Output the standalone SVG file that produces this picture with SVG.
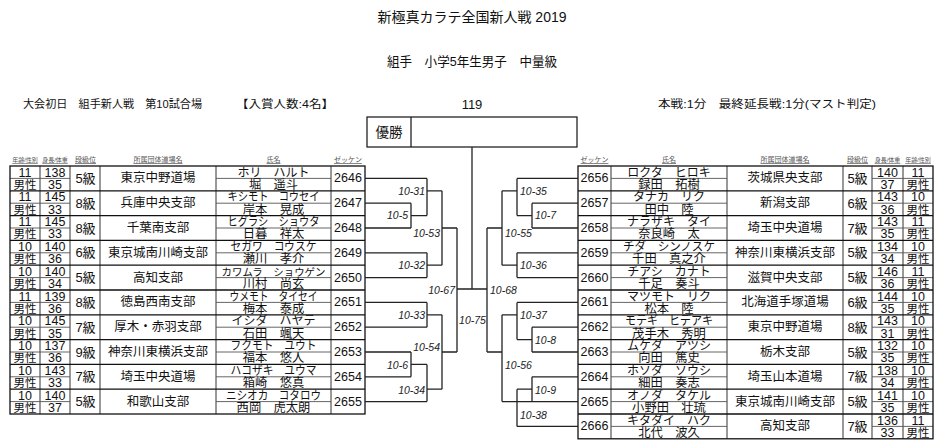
<svg xmlns="http://www.w3.org/2000/svg" width="941" height="447" viewBox="0 0 941 447">
<style>
text{font-family:"Liberation Sans","Noto Sans CJK JP",sans-serif;fill:#111}
.row text,.mid{text-anchor:middle;dominant-baseline:central}
.n{font-size:12.5px}
.s{font-size:11.5px}
.g{font-size:13px}
.cl{font-size:12.5px}
.k{font-size:12px}
.j{font-size:12.3px}
.z{font-size:12.5px}
.hd{font-size:7px;fill:#555;text-anchor:middle;text-decoration:underline}
.hs{font-size:6px}
.lb{font-size:10.5px;font-style:italic;fill:#222;dominant-baseline:central}
.e{text-anchor:end}
.info{font-size:11px;dominant-baseline:central}
.rowline{stroke:#111;stroke-width:1.3;fill:none}
.col{stroke:#333;stroke-width:1;fill:none}
.half{stroke:#555;stroke-width:0.9;fill:none}
.br{stroke:#222;stroke-width:1.3;fill:none}
</style>
<rect width="941" height="447" fill="#fff"/>

<g id="header">
<text class="mid" x="472" y="17" font-size="14">新極真カラテ全国新人戦 2019</text>
<text class="mid" x="472" y="61" font-size="13" textLength="170" lengthAdjust="spacingAndGlyphs">組手　小学5年生男子　中量級</text>
<text class="info" x="23" y="104" textLength="179" lengthAdjust="spacingAndGlyphs">大会初日　組手新人戦　第10試合場</text>
<text class="info" x="236" y="104" textLength="98" lengthAdjust="spacingAndGlyphs">【入賞人数:4名】</text>
<text class="mid" x="472" y="104" font-size="13">119</text>
<text class="info" x="658" y="104" textLength="218" lengthAdjust="spacingAndGlyphs">本戦:1分　最終延長戦:1分(マスト判定)</text>
</g>

<g id="winner">
<rect x="367" y="117" width="210" height="30" fill="none" stroke="#111" stroke-width="1.2"/>
<line x1="411" y1="117" x2="411" y2="147" stroke="#111" stroke-width="1.2"/>
<text class="mid" x="389" y="132" font-size="13.5">優勝</text>
</g>

<g id="left-headers">
<text class="hd hs" x="25" y="162">年齢/性別</text>
<text class="hd hs" x="55" y="162">身長/体重</text>
<text class="hd" x="85.5" y="162">段級位</text>
<text class="hd" x="158" y="162">所属団体道場名</text>
<text class="hd" x="273.5" y="162">氏名</text>
<text class="hd" x="348" y="162">ゼッケン</text>
</g>
<g id="right-headers">
<text class="hd" x="594.5" y="162">ゼッケン</text>
<text class="hd" x="669" y="162">氏名</text>
<text class="hd" x="785" y="162">所属団体道場名</text>
<text class="hd" x="857.5" y="162">段級位</text>
<text class="hd hs" x="887.5" y="162">身長/体重</text>
<text class="hd hs" x="918" y="162">年齢/性別</text>
</g>

<g id="left-grid">
<path class="col" d="M40 166V414M70 166V414M100 166V414M216 166V414M331 166V414"/>
<path class="half" d="M10 178.4H70M216 178.4H331M10 203.2H70M216 203.2H331M10 228H70M216 228H331M10 252.8H70M216 252.8H331M10 277.6H70M216 277.6H331M10 302.4H70M216 302.4H331M10 327.2H70M216 327.2H331M10 352H70M216 352H331M10 376.8H70M216 376.8H331M10 401.6H70M216 401.6H331"/>
<path class="rowline" d="M10 190.8H365M10 215.6H365M10 240.4H365M10 265.2H365M10 290H365M10 314.8H365M10 339.6H365M10 364.4H365M10 389.2H365"/>
<rect class="rowline" x="10" y="166" width="355" height="248"/>
</g>

<g id="right-grid">
<path class="col" d="M611 166V438.8M727 166V438.8M843 166V438.8M872 166V438.8M903 166V438.8"/>
<path class="half" d="M611 178.4H727M872 178.4H933M611 203.2H727M872 203.2H933M611 228H727M872 228H933M611 252.8H727M872 252.8H933M611 277.6H727M872 277.6H933M611 302.4H727M872 302.4H933M611 327.2H727M872 327.2H933M611 352H727M872 352H933M611 376.8H727M872 376.8H933M611 401.6H727M872 401.6H933M611 426.4H727M872 426.4H933"/>
<path class="rowline" d="M578 190.8H933M578 215.6H933M578 240.4H933M578 265.2H933M578 290H933M578 314.8H933M578 339.6H933M578 364.4H933M578 389.2H933M578 414H933"/>
<rect class="rowline" x="578" y="166" width="355" height="272.8"/>
</g>

<g id="p2646" class="row"><text class="n" x="25" y="172.5">11</text><text class="s" x="25" y="184.7">男性</text><text class="n" x="55" y="172.5">138</text><text class="n" x="55" y="184.7">35</text><text class="g" x="85.5" y="178.4">5級</text><text class="cl" x="158" y="178.4">東京中野道場</text><text class="k" x="273.5" y="172.5">ホリ　ハルト</text><text class="j" x="273.5" y="184.7">堀　遥斗</text><text class="z" x="348" y="178.4">2646</text></g>
<g id="p2647" class="row"><text class="n" x="25" y="197.3">11</text><text class="s" x="25" y="209.5">男性</text><text class="n" x="55" y="197.3">145</text><text class="n" x="55" y="209.5">33</text><text class="g" x="85.5" y="203.2">8級</text><text class="cl" x="158" y="203.2">兵庫中央支部</text><text class="k" x="273.5" y="197.3" textLength="92" lengthAdjust="spacingAndGlyphs">キシモト　コウセイ</text><text class="j" x="273.5" y="209.5">岸本　晃成</text><text class="z" x="348" y="203.2">2647</text></g>
<g id="p2648" class="row"><text class="n" x="25" y="222.1">11</text><text class="s" x="25" y="234.3">男性</text><text class="n" x="55" y="222.1">145</text><text class="n" x="55" y="234.3">33</text><text class="g" x="85.5" y="228">8級</text><text class="cl" x="158" y="228">千葉南支部</text><text class="k" x="273.5" y="222.1" textLength="92" lengthAdjust="spacingAndGlyphs">ヒグラシ　ショウタ</text><text class="j" x="273.5" y="234.3">日暮　祥太</text><text class="z" x="348" y="228">2648</text></g>
<g id="p2649" class="row"><text class="n" x="25" y="246.9">10</text><text class="s" x="25" y="259.1">男性</text><text class="n" x="55" y="246.9">140</text><text class="n" x="55" y="259.1">36</text><text class="g" x="85.5" y="252.8">6級</text><text class="cl" x="158" y="252.8">東京城南川崎支部</text><text class="k" x="273.5" y="246.9" textLength="86" lengthAdjust="spacingAndGlyphs">セガワ　コウスケ</text><text class="j" x="273.5" y="259.1">瀬川　孝介</text><text class="z" x="348" y="252.8">2649</text></g>
<g id="p2650" class="row"><text class="n" x="25" y="271.7">10</text><text class="s" x="25" y="283.9">男性</text><text class="n" x="55" y="271.7">140</text><text class="n" x="55" y="283.9">34</text><text class="g" x="85.5" y="277.6">5級</text><text class="cl" x="158" y="277.6">高知支部</text><text class="k" x="273.5" y="271.7" style="font-size:10.5px" textLength="104" lengthAdjust="spacingAndGlyphs">カワムラ　ショウゲン</text><text class="j" x="273.5" y="283.9">川村　尚玄</text><text class="z" x="348" y="277.6">2650</text></g>
<g id="p2651" class="row"><text class="n" x="25" y="296.5">11</text><text class="s" x="25" y="308.7">男性</text><text class="n" x="55" y="296.5">139</text><text class="n" x="55" y="308.7">36</text><text class="g" x="85.5" y="302.4">8級</text><text class="cl" x="158" y="302.4">徳島西南支部</text><text class="k" x="273.5" y="296.5" textLength="88" lengthAdjust="spacingAndGlyphs">ウメモト　タイセイ</text><text class="j" x="273.5" y="308.7">梅本　泰成</text><text class="z" x="348" y="302.4">2651</text></g>
<g id="p2652" class="row"><text class="n" x="25" y="321.3">10</text><text class="s" x="25" y="333.5">男性</text><text class="n" x="55" y="321.3">145</text><text class="n" x="55" y="333.5">35</text><text class="g" x="85.5" y="327.2">7級</text><text class="cl" x="158" y="327.2">厚木・赤羽支部</text><text class="k" x="273.5" y="321.3">イシダ　ハヤテ</text><text class="j" x="273.5" y="333.5">石田　颯天</text><text class="z" x="348" y="327.2">2652</text></g>
<g id="p2653" class="row"><text class="n" x="25" y="346.1">10</text><text class="s" x="25" y="358.3">男性</text><text class="n" x="55" y="346.1">137</text><text class="n" x="55" y="358.3">36</text><text class="g" x="85.5" y="352">9級</text><text class="cl" x="158" y="352">神奈川東横浜支部</text><text class="k" x="273.5" y="346.1" textLength="86" lengthAdjust="spacingAndGlyphs">フクモト　ユウト</text><text class="j" x="273.5" y="358.3">福本　悠人</text><text class="z" x="348" y="352">2653</text></g>
<g id="p2654" class="row"><text class="n" x="25" y="370.9">10</text><text class="s" x="25" y="383.1">男性</text><text class="n" x="55" y="370.9">143</text><text class="n" x="55" y="383.1">33</text><text class="g" x="85.5" y="376.8">7級</text><text class="cl" x="158" y="376.8">埼玉中央道場</text><text class="k" x="273.5" y="370.9" textLength="86" lengthAdjust="spacingAndGlyphs">ハコザキ　ユウマ</text><text class="j" x="273.5" y="383.1">箱崎　悠真</text><text class="z" x="348" y="376.8">2654</text></g>
<g id="p2655" class="row"><text class="n" x="25" y="395.7">10</text><text class="s" x="25" y="407.9">男性</text><text class="n" x="55" y="395.7">140</text><text class="n" x="55" y="407.9">37</text><text class="g" x="85.5" y="401.6">5級</text><text class="cl" x="158" y="401.6">和歌山支部</text><text class="k" x="273.5" y="395.7" textLength="95" lengthAdjust="spacingAndGlyphs">ニシオカ　コタロウ</text><text class="j" x="273.5" y="407.9">西岡　虎太朗</text><text class="z" x="348" y="401.6">2655</text></g>

<g id="p2656" class="row"><text class="z" x="594.5" y="178.4">2656</text><text class="k" x="669" y="172.5">ロクタ　ヒロキ</text><text class="j" x="669" y="184.7">録田　拓樹</text><text class="cl" x="785" y="178.4">茨城県央支部</text><text class="g" x="857.5" y="178.4">5級</text><text class="n" x="887.5" y="172.5">140</text><text class="n" x="887.5" y="184.7">37</text><text class="n" x="918" y="172.5">11</text><text class="s" x="918" y="184.7">男性</text></g>
<g id="p2657" class="row"><text class="z" x="594.5" y="203.2">2657</text><text class="k" x="669" y="197.3">タナカ　リク</text><text class="j" x="669" y="209.5">田中　陸</text><text class="cl" x="785" y="203.2">新潟支部</text><text class="g" x="857.5" y="203.2">6級</text><text class="n" x="887.5" y="197.3">143</text><text class="n" x="887.5" y="209.5">36</text><text class="n" x="918" y="197.3">10</text><text class="s" x="918" y="209.5">男性</text></g>
<g id="p2658" class="row"><text class="z" x="594.5" y="228">2658</text><text class="k" x="669" y="222.1">ナラザキ　タイ</text><text class="j" x="669" y="234.3">奈良崎　太</text><text class="cl" x="785" y="228">埼玉中央道場</text><text class="g" x="857.5" y="228">7級</text><text class="n" x="887.5" y="222.1">143</text><text class="n" x="887.5" y="234.3">35</text><text class="n" x="918" y="222.1">11</text><text class="s" x="918" y="234.3">男性</text></g>
<g id="p2659" class="row"><text class="z" x="594.5" y="252.8">2659</text><text class="k" x="669" y="246.9" textLength="92" lengthAdjust="spacingAndGlyphs">チダ　シンノスケ</text><text class="j" x="669" y="259.1">千田　真之介</text><text class="cl" x="785" y="252.8">神奈川東横浜支部</text><text class="g" x="857.5" y="252.8">5級</text><text class="n" x="887.5" y="246.9">134</text><text class="n" x="887.5" y="259.1">34</text><text class="n" x="918" y="246.9">10</text><text class="s" x="918" y="259.1">男性</text></g>
<g id="p2660" class="row"><text class="z" x="594.5" y="277.6">2660</text><text class="k" x="669" y="271.7">チアシ　カナト</text><text class="j" x="669" y="283.9">千足　奏斗</text><text class="cl" x="785" y="277.6">滋賀中央支部</text><text class="g" x="857.5" y="277.6">5級</text><text class="n" x="887.5" y="271.7">146</text><text class="n" x="887.5" y="283.9">36</text><text class="n" x="918" y="271.7">11</text><text class="s" x="918" y="283.9">男性</text></g>
<g id="p2661" class="row"><text class="z" x="594.5" y="302.4">2661</text><text class="k" x="669" y="296.5">マツモト　リク</text><text class="j" x="669" y="308.7">松本　陸</text><text class="cl" x="785" y="302.4">北海道手塚道場</text><text class="g" x="857.5" y="302.4">6級</text><text class="n" x="887.5" y="296.5">144</text><text class="n" x="887.5" y="308.7">35</text><text class="n" x="918" y="296.5">10</text><text class="s" x="918" y="308.7">男性</text></g>
<g id="p2662" class="row"><text class="z" x="594.5" y="327.2">2662</text><text class="k" x="669" y="321.3" textLength="88" lengthAdjust="spacingAndGlyphs">モテギ　ヒデアキ</text><text class="j" x="669" y="333.5">茂手木　秀明</text><text class="cl" x="785" y="327.2">東京中野道場</text><text class="g" x="857.5" y="327.2">8級</text><text class="n" x="887.5" y="321.3">143</text><text class="n" x="887.5" y="333.5">31</text><text class="n" x="918" y="321.3">10</text><text class="s" x="918" y="333.5">男性</text></g>
<g id="p2663" class="row"><text class="z" x="594.5" y="352">2663</text><text class="k" x="669" y="346.1">ムケダ　アツシ</text><text class="j" x="669" y="358.3">向田　篤史</text><text class="cl" x="785" y="352">栃木支部</text><text class="g" x="857.5" y="352">5級</text><text class="n" x="887.5" y="346.1">132</text><text class="n" x="887.5" y="358.3">35</text><text class="n" x="918" y="346.1">10</text><text class="s" x="918" y="358.3">男性</text></g>
<g id="p2664" class="row"><text class="z" x="594.5" y="376.8">2664</text><text class="k" x="669" y="370.9">ホソダ　ソウシ</text><text class="j" x="669" y="383.1">細田　奏志</text><text class="cl" x="785" y="376.8">埼玉山本道場</text><text class="g" x="857.5" y="376.8">7級</text><text class="n" x="887.5" y="370.9">138</text><text class="n" x="887.5" y="383.1">34</text><text class="n" x="918" y="370.9">10</text><text class="s" x="918" y="383.1">男性</text></g>
<g id="p2665" class="row"><text class="z" x="594.5" y="401.6">2665</text><text class="k" x="669" y="395.7">オノダ　タケル</text><text class="j" x="669" y="407.9">小野田　壮琉</text><text class="cl" x="785" y="401.6">東京城南川崎支部</text><text class="g" x="857.5" y="401.6">5級</text><text class="n" x="887.5" y="395.7">141</text><text class="n" x="887.5" y="407.9">35</text><text class="n" x="918" y="395.7">10</text><text class="s" x="918" y="407.9">男性</text></g>
<g id="p2666" class="row"><text class="z" x="594.5" y="426.4">2666</text><text class="k" x="669" y="420.5">キタダイ　ハク</text><text class="j" x="669" y="432.7">北代　波久</text><text class="cl" x="785" y="426.4">高知支部</text><text class="g" x="857.5" y="426.4">7級</text><text class="n" x="887.5" y="420.5">136</text><text class="n" x="887.5" y="432.7">33</text><text class="n" x="918" y="420.5">11</text><text class="s" x="918" y="432.7">男性</text></g>

<g id="connectors">
<path class="br" d="M365 178.4H427M365 203.2H411M365 228H411M411 203.2V228M411 215.6H427M427 178.4V215.6M427 190.8H442M365 252.8H427M365 277.6H427M427 252.8V277.6M427 265.2H442M442 190.8V265.2M442 228H457M365 302.4H427M365 327.2H427M427 302.4V327.2M427 314.8H442M365 352H411M365 376.8H411M411 352V376.8M411 364.4H427M365 401.6H427M427 364.4V401.6M427 389.2H442M442 314.8V389.2M442 352H457M457 228V352M457 289H487M472 147V289"/>
<path class="br" d="M578 178.4H517M578 203.2H532M578 228H532M532 203.2V228M532 215.6H517M517 178.4V215.6M517 190.8H502M578 252.8H517M578 277.6H517M517 252.8V277.6M517 265.2H502M502 190.8V265.2M502 228H487M578 302.4H517M578 327.2H532M578 352H532M532 327.2V352M532 339.6H517M517 302.4V339.6M517 314.8H502M578 376.8H532M578 401.6H502M532 376.8V401.6M532 389.2H517M578 426.4H517M517 389.2V426.4M502 314.8V401.6M502 352H487M487 228V352"/>
</g>

<g id="match-labels">
<text class="lb e" x="425" y="190.8">10-31</text>
<text class="lb e" x="408" y="215">10-5</text>
<text class="lb e" x="440" y="233">10-53</text>
<text class="lb e" x="425" y="265">10-32</text>
<text class="lb e" x="455" y="289.5">10-67</text>
<text class="lb e" x="425" y="315">10-33</text>
<text class="lb e" x="440" y="346.5">10-54</text>
<text class="lb e" x="408" y="364.5">10-6</text>
<text class="lb e" x="425" y="389.5">10-34</text>
<text class="lb" x="520" y="190.8">10-35</text>
<text class="lb" x="535" y="215">10-7</text>
<text class="lb" x="505" y="233">10-55</text>
<text class="lb" x="520" y="265">10-36</text>
<text class="lb" x="490" y="289.5">10-68</text>
<text class="lb" x="520" y="315">10-37</text>
<text class="lb" x="535" y="340">10-8</text>
<text class="lb" x="505" y="364.5">10-56</text>
<text class="lb" x="535" y="389.5">10-9</text>
<text class="lb" x="520" y="414.5">10-38</text>
<text class="lb" x="472.5" y="320" text-anchor="middle">10-75</text>
</g>
</svg>
